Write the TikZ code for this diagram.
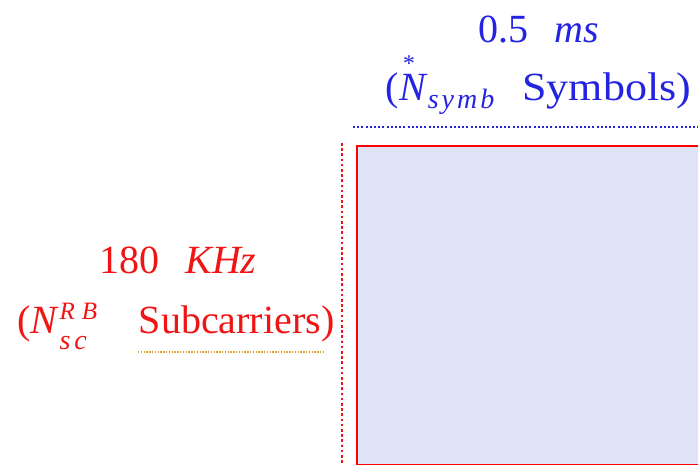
\documentclass[tikz,border=0pt]{standalone}
\usepackage{fontspec}
\setmainfont{Liberation Serif}
\definecolor{tblue}{RGB}{35,35,225}
\definecolor{tred}{RGB}{240,20,20}
\definecolor{rbfill}{RGB}{222,227,245}
\definecolor{dotorange}{RGB}{225,160,60}
\newcommand\smallit[2]{{\fontsize{#1}{#1}\selectfont\itshape #2}}
\begin{document}
\begin{tikzpicture}[x=1pt,y=-1pt,
  bigtxt/.style={font=\fontsize{40}{48}\selectfont, inner sep=0pt, anchor=base},
  rbbox/.style={draw=red, line width=2pt, fill=rbfill, inner sep=0pt, anchor=north west},
  bluedot/.style={draw=tblue, line width=1.6pt, dash pattern=on 2pt off 2.2pt},
  reddot/.style={draw=tred, line width=2pt, dash pattern=on 2.6pt off 2.6pt},
  orangedot/.style={draw=dotorange, line width=1.2pt, dash pattern=on 1.3pt off 1.5pt}]
\useasboundingbox (0,0) rectangle (698,464);
\node (rb) [rbbox, minimum width=400pt, minimum height=319pt] at (356,145) {};
% top label
\node (time) [bigtxt, text=tblue] at (539,42) {0.5\hspace{0.65em}\textit{ms}};
\node (sym) [bigtxt, text=tblue] at (538.5,100) {(\textit{N}\rlap{\kern-0.65em\raisebox{0.72em}{\smallit{24}{*}}}\raisebox{-0.2em}{\smallit{28}{s\kern3pt y\kern3pt m\kern3pt b}}\hspace{0.7em}\scalebox{1.1}[1]{Symbols)}};
% left label
\node (freq) [bigtxt, text=tred] at (178,273) {180\hspace{0.65em}\textit{KHz}};
\node (sub) [bigtxt, text=tred] at (176,333) {(\textit{N}\rlap{\raisebox{0.33em}{\smallit{25}{R\kern7pt B}}}\raisebox{-0.4em}{\smallit{28}{s\kern4pt c}}\hspace{1.3em}Subcarriers)};
% dotted guides
\coordinate (b1) at (353,127);
\coordinate (b2) at (698,127);
\draw[bluedot] (b1) -- (b2);
\coordinate (r1) at (341.5,143);
\coordinate (r2) at (341.5,464);
\draw[reddot] (r1) -- (r2);
\coordinate (o1) at (138,352);
\coordinate (o2) at (325,352);
\draw[orangedot] (o1) -- (o2);
\end{tikzpicture}
\end{document}
